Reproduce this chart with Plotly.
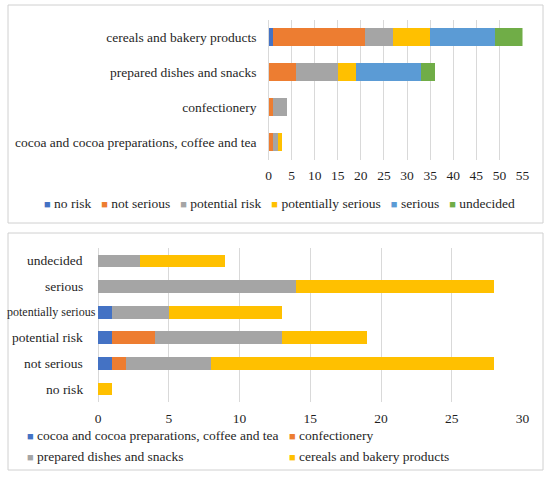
import plotly.graph_objects as go

# ---------------- data ----------------
food_categories = [
    "cocoa and cocoa preparations, coffee and tea",
    "confectionery",
    "prepared dishes and snacks",
    "cereals and bakery products",
]
risk_levels = ["no risk", "not serious", "potential risk",
               "potentially serious", "serious", "undecided"]

# counts per risk level, one value per food category (same order as food_categories)
no_risk = [0, 0, 0, 1]
not_serious = [1, 1, 6, 20]
potential_risk = [1, 3, 9, 6]
potentially_serious = [1, 0, 4, 8]
serious = [0, 0, 14, 14]
undecided = [0, 0, 3, 6]

top_ticks = [0, 5, 10, 15, 20, 25, 30, 35, 40, 45, 50, 55]
bottom_ticks = [0, 5, 10, 15, 20, 25, 30]

risk_colors = ["#4472C4", "#ED7D31", "#A5A5A5", "#FFC000", "#5B9BD5", "#70AD47"]
food_colors = ["#4472C4", "#ED7D31", "#A5A5A5", "#FFC000"]

# bottom legend order (2 columns x 2 rows)
bottom_legend_order = [0, 1, 2, 3]

# ---------------- layout helpers ----------------
W, H = 550, 477
FONT = "Liberation Serif, DejaVu Serif, serif"
FS = 13.5
TXT = "#1f1f1f"
GRID = "#D9D9D9"


def fx(p):
    return p / W


def fy(p):
    return 1 - p / H


risk_counts = [no_risk, not_serious, potential_risk, potentially_serious, serious, undecided]

fig = go.Figure()

# top panel: food categories on y, stacked by risk level
for name, vals, col in zip(risk_levels, risk_counts, risk_colors):
    fig.add_trace(go.Bar(
        y=food_categories, x=vals, orientation="h", name=name,
        marker=dict(color=col, line=dict(width=0)),
        xaxis="x", yaxis="y", showlegend=False,
    ))

# bottom panel: risk levels on y, stacked by food category
for j, (name, col) in enumerate(zip(food_categories, food_colors)):
    fig.add_trace(go.Bar(
        y=risk_levels, x=[rc[j] for rc in risk_counts], orientation="h", name=name,
        marker=dict(color=col, line=dict(width=0)),
        xaxis="x2", yaxis="y2", showlegend=False,
    ))

axis_common = dict(
    showline=False, ticks="", gridcolor=GRID, gridwidth=1,
    zeroline=True, zerolinecolor=GRID, zerolinewidth=1,
    tickfont=dict(family=FONT, size=FS, color=TXT), fixedrange=True,
    automargin=False,
)

fig.update_layout(
    width=W, height=H,
    margin=dict(l=0, r=0, t=0, b=0, autoexpand=False),
    paper_bgcolor="white", plot_bgcolor="white",
    barmode="stack", bargap=0.5,
    font=dict(family=FONT, size=FS, color=TXT),
    xaxis=dict(domain=[fx(268.5), fx(522.5)], range=[0, 55], tickvals=top_ticks,
               anchor="y", ticklabelstandoff=6, **axis_common),
    yaxis=dict(domain=[fy(159.5), fy(19.5)], type="category", anchor="x",
               categoryorder="array", categoryarray=food_categories,
               showgrid=False, ticks="", showline=False, ticklabelstandoff=11,
               automargin=False,
               tickfont=dict(family=FONT, size=FS, color=TXT), fixedrange=True),
    xaxis2=dict(domain=[fx(98), fx(522.5)], range=[0, 30], tickvals=bottom_ticks,
                anchor="y2", ticklabelstandoff=7, **axis_common),
    yaxis2=dict(domain=[fy(401.8), fy(248.2)], type="category", anchor="x2",
                categoryorder="array", categoryarray=risk_levels,
                showgrid=False, ticks="", showline=False, showticklabels=False,
                automargin=False, fixedrange=True),
)

# panel borders
for (x0, y0, x1, y1) in [(8, 5, 543, 223), (8, 233, 543, 470)]:
    fig.add_shape(type="rect", xref="paper", yref="paper",
                  x0=fx(x0), x1=fx(x1), y0=fy(y1), y1=fy(y0),
                  line=dict(color="#D0D0D0", width=1), fillcolor="rgba(0,0,0,0)",
                  layer="below")

# bottom panel category labels (right-aligned to the axis, long ones shrink to fit)
for lab in risk_levels:
    long = len(lab) > 15
    fig.add_annotation(
        xref="x2 domain", yref="y2", x=0, y=lab, text=lab, showarrow=False,
        xanchor="right", xshift=0 if long else -13,
        font=dict(family=FONT, size=12 if long else FS, color=TXT),
    )


def swatch(col):
    return f'<span style="color:{col};font-size:11px">■</span>'


# top legend (single row, centered)
top_legend = "   ".join(f"{swatch(c)} {n}" for n, c in zip(risk_levels, risk_colors))
fig.add_annotation(xref="paper", yref="paper", x=fx(279), y=fy(203), text=top_legend,
                   showarrow=False, xanchor="center", yanchor="middle",
                   font=dict(family=FONT, size=FS, color=TXT))

# bottom legend (2 x 2)
cols_x = [25, 287]
rows_y = [435, 456]
for k, j in enumerate(bottom_legend_order):
    fig.add_annotation(xref="paper", yref="paper", x=fx(cols_x[k % 2]), y=fy(rows_y[k // 2]),
                       text=f"{swatch(food_colors[j])} {food_categories[j]}",
                       showarrow=False, xanchor="left", yanchor="middle",
                       font=dict(family=FONT, size=FS, color=TXT))

fig.write_html(
    "out.html",
    config={"displayModeBar": False, "staticPlot": True},
    post_script="document.body.style.margin='0';document.body.style.overflow='hidden';",
)
